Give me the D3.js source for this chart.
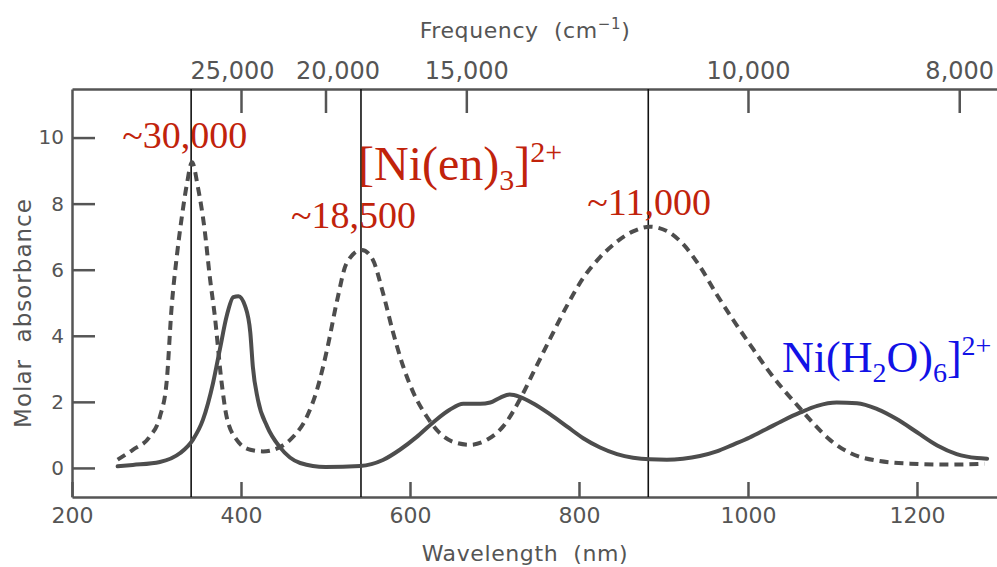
<!DOCTYPE html>
<html>
<head>
<meta charset="utf-8">
<script src="https://cdn.jsdelivr.net/npm/d3@7"></script>
<style>
  body { margin: 0; background: #fff; }
  svg { display: block; }
  .axis text { font-family: 'DejaVu Sans', sans-serif; fill: #555; }
  .axis path, .axis line { stroke: #555; stroke-width: 2.5; }
  .title { font-family: 'DejaVu Sans', sans-serif; fill: #555; white-space: pre; }
</style>
</head>
<body>
<div class="canvas"></div>
<script>
// data: wavelength (nm) and molar absorbance
const enWavelength = [254, 272, 292, 304, 312, 318, 324, 330, 336, 342, 349, 357, 363, 369, 377, 383, 395, 411, 426, 446, 462, 478, 490, 502, 514, 525, 543, 556, 568, 580, 592, 604, 620, 635, 651, 671, 691, 710, 730, 746, 766, 786, 805, 825, 845, 864, 884, 904, 923, 943, 963, 982, 1002, 1022, 1041, 1060, 1077, 1097, 1121, 1153, 1192, 1239, 1280];
const enAbsorbance = [0.25, 0.55, 0.95, 1.55, 2.6, 4.9, 6.4, 7.6, 8.6, 9.25, 8.5, 7.2, 5.8, 4.6, 2.6, 1.55, 0.85, 0.55, 0.5, 0.63, 0.95, 1.55, 2.37, 3.6, 5.1, 6.2, 6.6, 6.3, 5.3, 4.1, 3.07, 2.28, 1.55, 1.06, 0.79, 0.7, 0.85, 1.25, 2.07, 2.89, 3.92, 4.92, 5.75, 6.38, 6.85, 7.16, 7.3, 7.17, 6.78, 6.1, 5.25, 4.5, 3.75, 3.02, 2.4, 1.85, 1.36, 0.85, 0.45, 0.22, 0.13, 0.1, 0.13];

const aquaWavelength = [254, 272, 304, 328, 343, 355, 367, 375, 383, 391, 397, 405, 411, 414, 420, 431, 446, 470, 500, 541, 568, 588, 608, 627, 647, 663, 683, 695, 707, 718, 730, 746, 766, 786, 805, 825, 845, 864, 884, 904, 923, 943, 963, 982, 1002, 1022, 1041, 1062, 1082, 1105, 1129, 1153, 1176, 1200, 1224, 1247, 1271, 1283];
const aquaAbsorbance = [0.05, 0.09, 0.18, 0.45, 0.85, 1.46, 2.58, 3.59, 4.59, 5.17, 5.2, 4.89, 4.1, 3.07, 2.07, 1.25, 0.63, 0.15, 0.03, 0.06, 0.24, 0.55, 0.94, 1.37, 1.76, 1.94, 1.94, 1.98, 2.13, 2.22, 2.15, 1.95, 1.62, 1.25, 0.9, 0.62, 0.42, 0.31, 0.26, 0.25, 0.28, 0.36, 0.5, 0.7, 0.92, 1.18, 1.43, 1.68, 1.88, 1.98, 1.96, 1.78, 1.48, 1.08, 0.68, 0.42, 0.3, 0.28];

// marked band positions (nm) and their labels
const peakNm = [341, 542, 882];
const peakLabels = ['~30,000', '~18,500', '~11,000'];

// axis ticks
const wavelengthTicks = [200, 400, 600, 800, 1000, 1200];
const absorbanceTicks = [0, 2, 4, 6, 8, 10];
const frequencyTicks = [25000, 20000, 15000, 10000, 8000];

const margin = { top: 89, right: 0, bottom: 70, left: 72 };
const width = 997;
const height = 567;
const graphWidth = width - margin.left - margin.right;
const graphHeight = 497 - margin.top;

const svg = d3
  .select('.canvas')
  .append('svg')
  .attr('width', width)
  .attr('height', height);

const graph = svg
  .append('g')
  .attr('transform', `translate(${margin.left}, ${margin.top})`);

// scales
const x = d3.scaleLinear().domain([200, 1294.7]).range([0, graphWidth]);
const y = d3.scaleLinear().domain([-0.88, 11.47]).range([graphHeight, 0]);

// axes
const xAxis = d3
  .axisBottom(x)
  .tickValues(wavelengthTicks)
  .tickSize(-15)
  .tickSizeOuter(0)
  .tickPadding(10)
  .tickFormat(d3.format('d'));

const yAxis = d3
  .axisLeft(y)
  .tickValues(absorbanceTicks)
  .tickSize(-23)
  .tickSizeOuter(0)
  .tickPadding(8);

const topAxis = d3
  .axisTop(x)
  .tickValues(frequencyTicks.map(f => 1e7 / f))
  .tickSize(-24)
  .tickSizeOuter(0)
  .tickPadding(10)
  .tickFormat((d, i) => d3.format(',')(frequencyTicks[i]));

const xAxisGroup = graph
  .append('g')
  .attr('class', 'axis x-axis')
  .attr('transform', `translate(0, ${graphHeight})`)
  .call(xAxis);
xAxisGroup.selectAll('text').style('font-size', '22px');

const yAxisGroup = graph.append('g').attr('class', 'axis y-axis').call(yAxis);
yAxisGroup.selectAll('text').style('font-size', '20px');

const topAxisGroup = graph.append('g').attr('class', 'axis top-axis').call(topAxis);
// the two crowded labels on the left are pushed apart, as in the print
const labelShift = { 25000: -9, 20000: 12 };
topAxisGroup
  .selectAll('text')
  .style('font-size', '24px')
  .attr('dx', (d, i) => labelShift[frequencyTicks[i]] || 0);

// axis titles
svg
  .append('text')
  .attr('class', 'title')
  .attr('x', 525)
  .attr('y', 561)
  .attr('text-anchor', 'middle')
  .style('font-size', '22px')
  .style('letter-spacing', '0.6px')
  .text('Wavelength  (nm)');

const freqTitle = svg
  .append('text')
  .attr('class', 'title')
  .attr('x', 525)
  .attr('y', 38)
  .attr('text-anchor', 'middle')
  .style('font-size', '22px')
  .style('letter-spacing', '0.6px');
freqTitle.append('tspan').text('Frequency  (cm');
freqTitle.append('tspan').attr('dy', -9).style('font-size', '15px').text('\u22121');
freqTitle.append('tspan').attr('dy', 9).text(')');

svg
  .append('text')
  .attr('class', 'title')
  .attr('transform', 'translate(31, 313) rotate(-90)')
  .attr('text-anchor', 'middle')
  .style('font-size', '23px')
  .style('letter-spacing', '1px')
  .text('Molar  absorbance');

// vertical marker lines
graph
  .selectAll('.marker')
  .data(peakNm)
  .enter()
  .append('line')
  .attr('class', 'marker')
  .attr('x1', d => x(d))
  .attr('x2', d => x(d))
  .attr('y1', 0)
  .attr('y2', graphHeight)
  .attr('stroke', '#111')
  .attr('stroke-width', 1.6);

// line path generator
const line = d3
  .line()
  .x(d => x(d[0]))
  .y(d => y(d[1]))
  .curve(d3.curveMonotoneX);

const enData = enWavelength.map((w, i) => [w, enAbsorbance[i]]);
const aquaData = aquaWavelength.map((w, i) => [w, aquaAbsorbance[i]]);

graph
  .append('path')
  .datum(aquaData)
  .attr('fill', 'none')
  .attr('stroke', '#4d4d4d')
  .attr('stroke-width', 4)
  .attr('stroke-linecap', 'round')
  .attr('d', line);

graph
  .append('path')
  .datum(enData)
  .attr('fill', 'none')
  .attr('stroke', '#4d4d4d')
  .attr('stroke-width', 4)
  .attr('stroke-dasharray', '9 6')
  .attr('d', line);

// band labels
const labelPos = [
  { dx: -69, y: 148 },
  { dx: -70, y: 228 },
  { dx: -61, y: 215 }
];
svg
  .selectAll('.peak-label')
  .data(peakLabels)
  .enter()
  .append('text')
  .attr('class', 'peak-label')
  .attr('x', (d, i) => margin.left + x(peakNm[i]) + labelPos[i].dx)
  .attr('y', (d, i) => labelPos[i].y)
  .style('font-family', 'Liberation Serif, serif')
  .style('font-size', '38px')
  .style('fill', '#c1230b')
  .text(d => d);

// complex names
const enName = svg
  .append('text')
  .attr('x', 358)
  .attr('y', 180)
  .style('font-family', 'Liberation Serif, serif')
  .style('font-size', '48px')
  .style('fill', '#c1230b');
enName.append('tspan').text('[Ni(en)');
enName.append('tspan').attr('dy', 10).style('font-size', '30px').text('3');
enName.append('tspan').attr('dy', -10).text(']');
enName.append('tspan').attr('dy', -18).style('font-size', '30px').text('2+');

const aquaName = svg
  .append('text')
  .attr('x', 782)
  .attr('y', 372)
  .style('font-family', 'Liberation Serif, serif')
  .style('font-size', '44px')
  .style('fill', '#1212e6');
aquaName.append('tspan').text('Ni(H');
aquaName.append('tspan').attr('dy', 10).style('font-size', '28px').text('2');
aquaName.append('tspan').attr('dy', -10).text('O)');
aquaName.append('tspan').attr('dy', 10).style('font-size', '28px').text('6');
aquaName.append('tspan').attr('dy', -10).text(']');
aquaName.append('tspan').attr('dy', -17).style('font-size', '28px').text('2+');
</script>
</body>
</html>
